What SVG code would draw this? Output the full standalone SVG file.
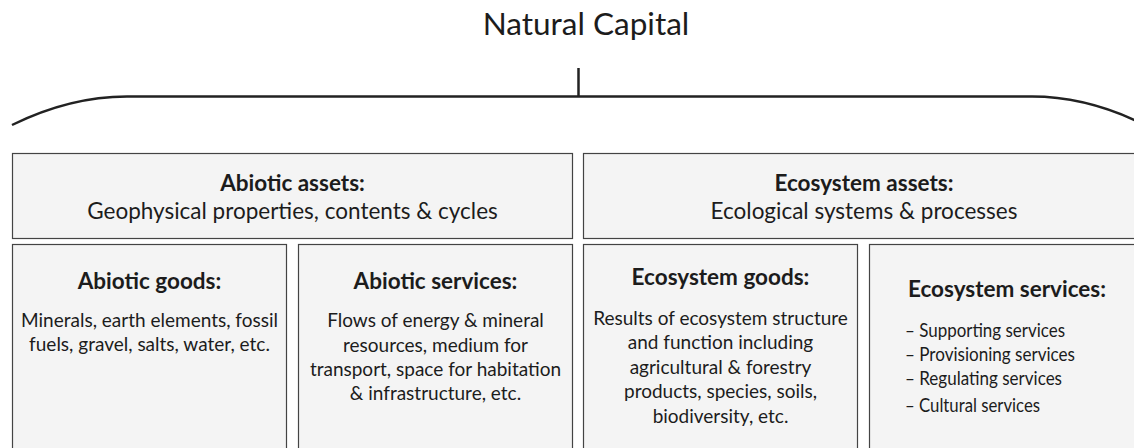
<svg xmlns="http://www.w3.org/2000/svg" width="1134" height="448" viewBox="0 0 1134 448">
<style>
.box{fill:#f4f4f4;stroke:#444;stroke-width:1.2}
.brace{fill:none;stroke:#222;stroke-width:2.5}
text{font-family:Lato,"Open Sans","Liberation Sans",sans-serif;fill:#1c1c1c;text-anchor:middle}
.t{font-size:31.5px}
.h{font-size:22.5px;font-weight:bold}
.s{font-size:22.5px}
.bh{font-size:22.5px;font-weight:bold}
.b{font-size:19px}
.l{font-size:18.5px;text-anchor:start}
</style>
<rect width="1134" height="448" fill="#fff"/>
<g id="title"><text class="t" x="586" y="35">Natural Capital</text></g>
<g id="connectors">
<path class="brace" d="M12,125 Q70,96.5 127,96.5 L1032,96.5 Q1088,96.5 1145,125"/>
<path class="brace" d="M578.5,68 V96.5"/>
</g>
<g id="abiotic-assets">
<rect class="box" x="12.5" y="153.5" width="560" height="85"/>
<text class="h" x="292.5" y="190.5">Abiotic assets:</text>
<text class="s" x="292.5" y="218.5">Geophysical properties, contents &amp; cycles</text>
</g>
<g id="ecosystem-assets">
<rect class="box" x="583.5" y="153.5" width="570" height="85"/>
<text class="h" x="864" y="190.5">Ecosystem assets:</text>
<text class="s" x="864" y="218.5">Ecological systems &amp; processes</text>
</g>
<g id="abiotic-goods">
<rect class="box" x="12.5" y="244.5" width="274" height="220"/>
<text class="bh" x="149.5" y="289">Abiotic goods:</text>
<text class="b" x="149.5" y="327">Minerals, earth elements, fossil</text>
<text class="b" x="149.5" y="351">fuels, gravel, salts, water, etc.</text>
</g>
<g id="abiotic-services">
<rect class="box" x="298.5" y="244.5" width="274" height="220"/>
<text class="bh" x="435.5" y="288.5">Abiotic services:</text>
<text class="b" x="435.5" y="327">Flows of energy &amp; mineral</text>
<text class="b" x="435.5" y="351.5">resources, medium for</text>
<text class="b" x="435.5" y="376">transport, space for habitation</text>
<text class="b" x="435.5" y="400">&amp; infrastructure, etc.</text>
</g>
<g id="ecosystem-goods">
<rect class="box" x="583.5" y="244.5" width="274" height="220"/>
<text class="bh" x="720.5" y="284.5">Ecosystem goods:</text>
<text class="b" x="720.5" y="325">Results of ecosystem structure</text>
<text class="b" x="720.5" y="349">and function including</text>
<text class="b" x="720.5" y="373.5">agricultural &amp; forestry</text>
<text class="b" x="720.5" y="397.5">products, species, soils,</text>
<text class="b" x="720.5" y="423">biodiversity, etc.</text>
</g>
<g id="ecosystem-services">
<rect class="box" x="869.5" y="244.5" width="280" height="220"/>
<text class="bh" x="1007" y="296.5">Ecosystem services:</text>
<text class="l" x="905" y="336.5" textLength="160" lengthAdjust="spacingAndGlyphs">– Supporting services</text>
<text class="l" x="905" y="360.5" textLength="170" lengthAdjust="spacingAndGlyphs">– Provisioning services</text>
<text class="l" x="905" y="385" textLength="157" lengthAdjust="spacingAndGlyphs">– Regulating services</text>
<text class="l" x="905" y="411.5" textLength="135" lengthAdjust="spacingAndGlyphs">– Cultural services</text>
</g>
</svg>
